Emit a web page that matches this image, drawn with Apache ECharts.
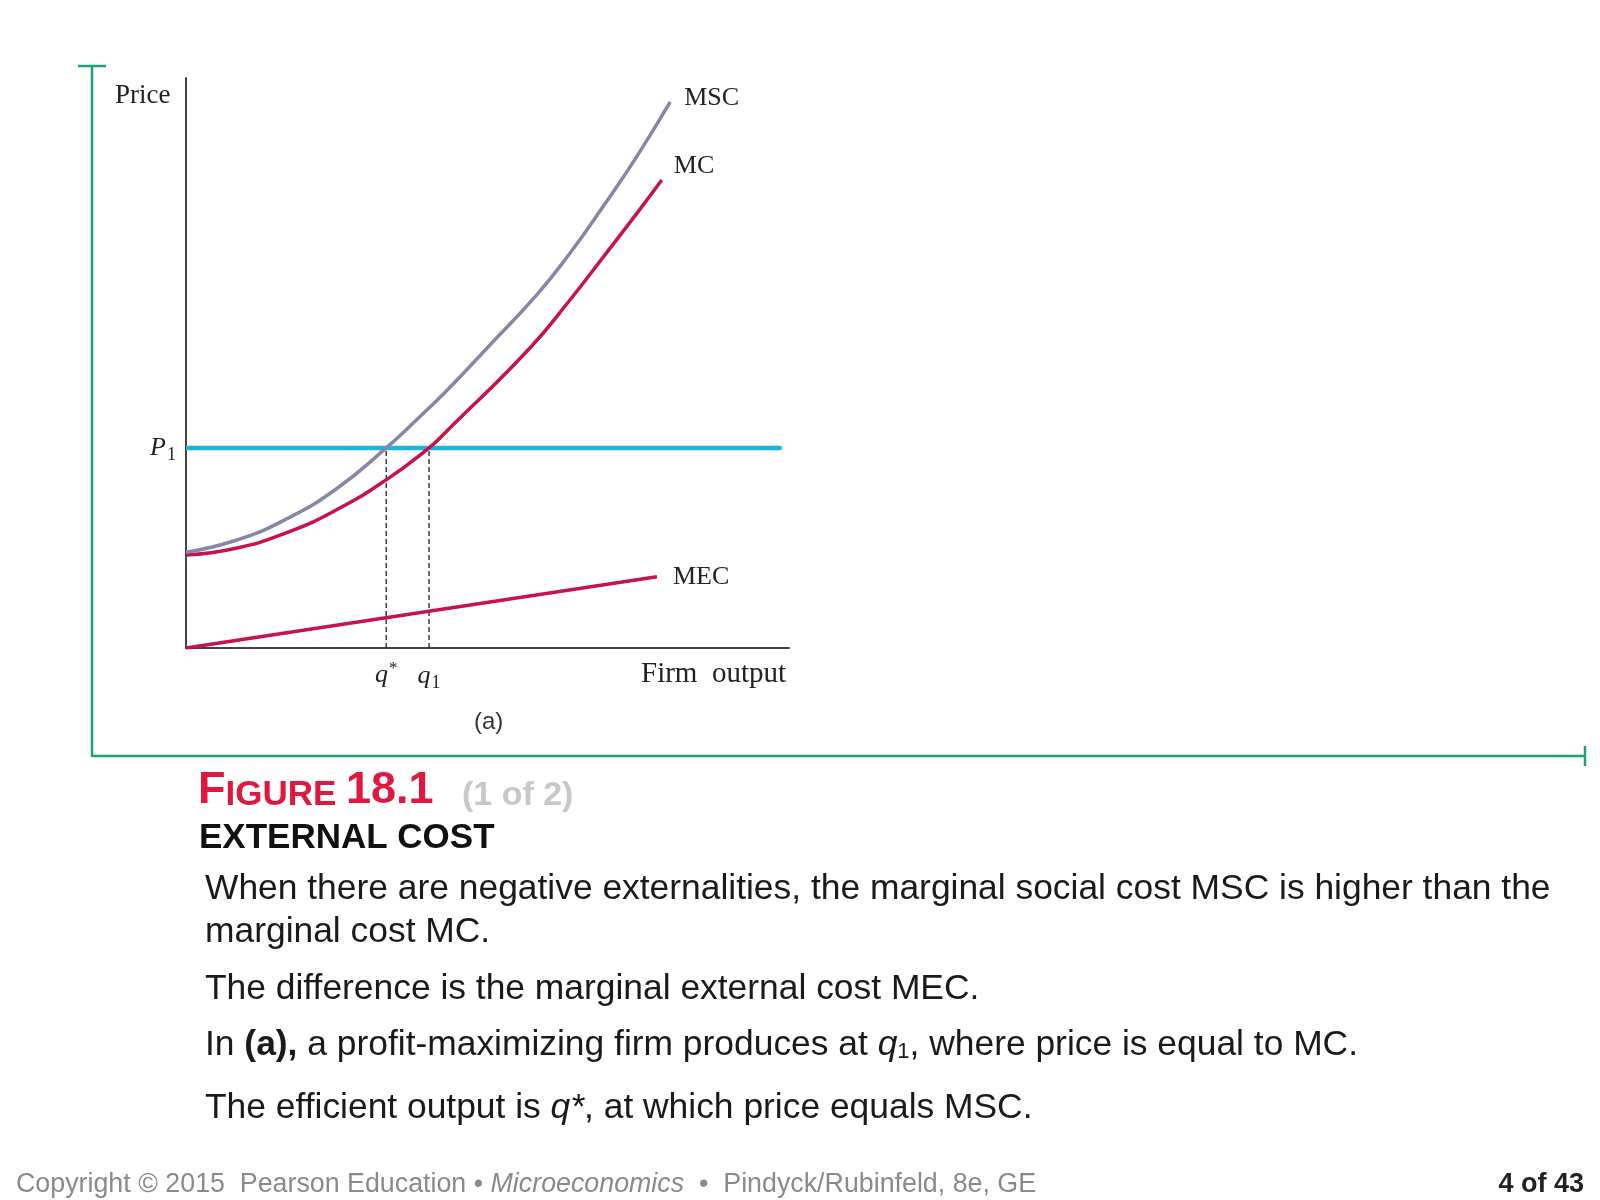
<!DOCTYPE html>
<html>
<head>
<meta charset="utf-8">
<script src="https://cdn.jsdelivr.net/npm/echarts@6/dist/echarts.min.js"></script>
<style>
  html, body { margin: 0; padding: 0; background: #fff; }
  #chart { width: 1600px; height: 1200px; }
</style>
</head>
<body>
<div id="chart"></div>
<script>
// curves (output 0-100, price 0-100)
const MSC_PTS = [[0, 16.8], [8.3, 18.9], [16.6, 22.6], [24.9, 27.9], [33.2, 35.1], [38.6, 40.4], [43.1, 45.0],
  [49.9, 52.6], [58.2, 62.0], [63.7, 69.3], [69.2, 77.5], [74.8, 86.3], [80.3, 95.8]];
const MC_PTS = [[0, 16.3], [8.3, 17.5], [16.6, 20.2], [24.9, 24.2], [33.2, 29.5], [40.3, 35.1], [43.1, 37.9],
  [57.0, 52.6], [63.7, 61.1], [69.2, 68.6], [74.8, 76.3], [78.9, 82.1]];
const MEC_PTS = [[0, 0], [78.1, 12.5]];
const P1 = 35.1;
const P1_END = 98.8;
const Q_STAR = 33.2;
const Q_ONE = 40.3;
const X_TICKS = [Q_STAR, Q_ONE];
const Y_TICKS = [P1];

const RED = "#c8124a";
const GREY_BLUE = "#8886a8";
const CYAN = "#1eb4e6";
const GREEN = "#1fa36e";
const SERIF = "'Liberation Serif', 'DejaVu Serif', serif";
const SANS = "'Liberation Sans', Arial, sans-serif";

const chart = echarts.init(document.getElementById("chart"));

function curve(name, data, color) {
  return {
    name, type: "line", data, smooth: 0.5, showSymbol: false, silent: true,
    lineStyle: { color, width: 3.5 },
    endLabel: {
      show: true, formatter: "{a}", color: "#222",
      fontFamily: SERIF, fontSize: 26
    },
    z: 3
  };
}

function dashed(q) {
  return {
    type: "line", data: [[q, 0], [q, P1]], showSymbol: false, silent: true,
    lineStyle: { color: "#222", width: 1.3, type: [5, 3] }, z: 1
  };
}

const mec = curve("MEC", MEC_PTS, RED);
mec.endLabel.offset = [8, 0];
const mc = curve("MC", MC_PTS, RED);
mc.endLabel.offset = [4, -14];
const msc = curve("MSC", MSC_PTS, GREY_BLUE);
msc.endLabel.offset = [6, -4];

const labelRich = {
  q: { fontFamily: SERIF, fontStyle: "italic", fontSize: 26, color: "#222" },
  p: { fontFamily: SERIF, fontStyle: "italic", fontSize: 26, color: "#222" },
  sup: { fontFamily: SERIF, fontSize: 17, color: "#222", padding: [0, 0, 14, 1] },
  sub: { fontFamily: SERIF, fontSize: 18, color: "#222", padding: [14, 0, 0, 1] }
};

const BODY = 35.4;
const BODY_LH = 44;
function bodyLine(y, text) {
  return {
    type: "text", left: 205, top: y - 15,
    style: {
      text,
      rich: {
        n: { fontFamily: SANS, fontSize: BODY, fill: "#1a1a1a", lineHeight: BODY_LH, verticalAlign: "bottom" },
        b: { fontFamily: SANS, fontSize: BODY, fontWeight: "bold", fill: "#1a1a1a", lineHeight: BODY_LH, verticalAlign: "bottom" },
        i: { fontFamily: SANS, fontSize: BODY, fontStyle: "italic", fill: "#1a1a1a", lineHeight: BODY_LH, verticalAlign: "bottom" },
        s: { fontFamily: SANS, fontSize: 22, fill: "#1a1a1a", lineHeight: 22, verticalAlign: "bottom" }
      }
    }
  };
}

chart.setOption({
  animation: false,
  backgroundColor: "#fff",
  grid: { left: 186, top: 78, width: 603, height: 570 },
  xAxis: {
    type: "value", min: 0, max: 100,
    axisLine: { lineStyle: { color: "#444", width: 2 } },
    axisTick: { show: false },
    splitLine: { show: false },
    axisLabel: {
      customValues: X_TICKS, margin: 12,
      formatter: v => (v === Q_STAR ? "{q|q}{sup|*}" : "{q|q}{sub|1}"),
      rich: labelRich
    }
  },
  yAxis: {
    type: "value", min: 0, max: 100,
    axisLine: { lineStyle: { color: "#444", width: 2 } },
    axisTick: { show: false },
    splitLine: { show: false },
    axisLabel: {
      customValues: Y_TICKS, margin: 10,
      formatter: () => "{p|P}{sub|1}",
      rich: labelRich
    }
  },
  series: [
    dashed(Q_STAR),
    dashed(Q_ONE),
    {
      type: "line", data: [[0, P1], [P1_END, P1]], showSymbol: false, silent: true,
      lineStyle: { color: CYAN, width: 4.5 }, z: 2
    },
    mec, mc, msc
  ],
  graphic: [
    // green slide frame
    { type: "line", shape: { x1: 92, y1: 66, x2: 92, y2: 757 }, style: { stroke: GREEN, lineWidth: 2.5 } },
    { type: "line", shape: { x1: 78, y1: 66, x2: 106, y2: 66 }, style: { stroke: GREEN, lineWidth: 2.5 } },
    { type: "line", shape: { x1: 92, y1: 756, x2: 1585, y2: 756 }, style: { stroke: GREEN, lineWidth: 2.5 } },
    { type: "line", shape: { x1: 1585, y1: 746, x2: 1585, y2: 766 }, style: { stroke: GREEN, lineWidth: 2.5 } },

    // diagram labels
    { type: "text", left: 115, top: 82, style: { text: "Price", fill: "#222", font: "27px " + SERIF } },
    { type: "text", left: 641, top: 660, style: { text: "Firm  output", fill: "#222", font: "29px " + SERIF } },
    { type: "text", left: 474, top: 710, style: { text: "(a)", fill: "#333", font: "24px " + SANS } },

    // caption
    {
      type: "text", left: 198, top: 768,
      style: {
        text: "{big|F}{sc|IGURE }{big|18.1}{g|   (1 of 2)}",
        rich: {
          big: { fontFamily: SANS, fontWeight: "bold", fontSize: 45, fill: "#e0173f", lineHeight: 46, verticalAlign: "bottom" },
          sc: { fontFamily: SANS, fontWeight: "bold", fontSize: 35, fill: "#e0173f", lineHeight: 39, verticalAlign: "bottom" },
          g: { fontFamily: SANS, fontWeight: "bold", fontSize: 34, fill: "#c8c8c8", lineHeight: 38, verticalAlign: "bottom" }
        }
      }
    },
    { type: "text", left: 199, top: 821, style: { text: "EXTERNAL COST", fill: "#111", font: "bold 35px " + SANS } },

    bodyLine(887, "{n|When there are negative externalities, the marginal social cost MSC is higher than the}"),
    bodyLine(930, "{n|marginal cost MC.}"),
    bodyLine(987, "{n|The difference is the marginal external cost MEC.}"),
    bodyLine(1043, "{n|In }{b|(a),}{n| a profit-maximizing firm produces at }{i|q}{s|1}{n|, where price is equal to MC.}"),
    bodyLine(1106, "{n|The efficient output is }{i|q*}{n|, at which price equals MSC.}"),

    // footer
    {
      type: "text", left: 16, top: 1171,
      style: {
        text: "{n|Copyright © 2015  Pearson Education • }{i|Microeconomics}{n|  •  Pindyck/Rubinfeld, 8e, GE}",
        rich: {
          n: { fontFamily: SANS, fontSize: 26.8, fill: "#8a8a8a" },
          i: { fontFamily: SANS, fontSize: 26.8, fontStyle: "italic", fill: "#8a8a8a" }
        }
      }
    },
    { type: "text", right: 16, top: 1171, style: { text: "4 of 43", fill: "#222", font: "bold 27px " + SANS } }
  ]
});
</script>
</body>
</html>
